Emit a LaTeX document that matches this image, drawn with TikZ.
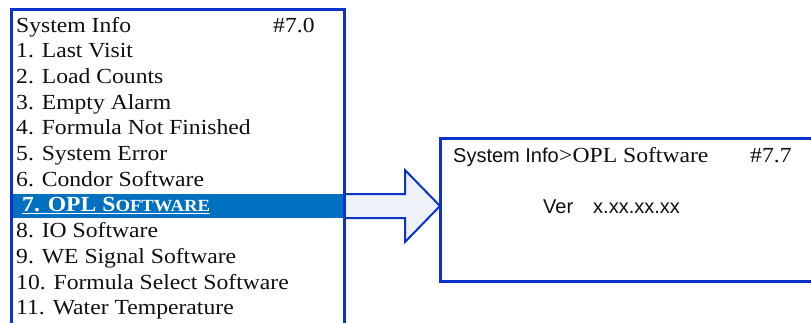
\documentclass[tikz,border=0pt]{standalone}
\usepackage{fontspec}
\newfontfamily\gfont{Liberation Serif}[FakeStretch=1.1]
\newfontfamily\afont{Liberation Sans}
\definecolor{boxblue}{RGB}{8,52,204}
\definecolor{selblue}{RGB}{0,112,192}
\definecolor{arrowfill}{RGB}{238,241,247}
\definecolor{txt}{RGB}{15,15,15}
\begin{document}
\begin{tikzpicture}[x=1pt,y=-1pt,
  item/.style={anchor=base west,inner sep=0pt,text=txt,font=\gfont\fontsize{21.5pt}{25pt}\selectfont},
  sans/.style={anchor=base west,inner sep=0pt,text=txt,font=\afont\fontsize{20pt}{24pt}\selectfont},
  frame/.style={draw=boxblue,line width=3pt},
]
\useasboundingbox (0,0) rectangle (811,322);
% highlight bar
\fill[selblue] (11,194) rectangle (344,217.5);
% arrow
\coordinate (a1) at (344,194);
\coordinate (a2) at (405,194);
\coordinate (a3) at (405,170);
\coordinate (tip) at (440,206);
\coordinate (a5) at (405,242);
\coordinate (a6) at (405,218);
\coordinate (a7) at (344,218);
\fill[arrowfill] (a1) -- (a2) -- (a3) -- (tip) -- (a5) -- (a6) -- (a7) -- cycle;
\draw[draw=boxblue,line width=2pt,line join=miter] (a1) -- (a2) -- (a3) -- (tip) -- (a5) -- (a6) -- (a7);
% left box
\coordinate (lb1) at (11,323);
\coordinate (lb2) at (11,9);
\coordinate (lb3) at (344,9);
\coordinate (lb4) at (344,323);
\draw[frame] (lb1) -- (lb2) -- (lb3) -- (lb4);
% right box
\coordinate (rb1) at (812,138);
\coordinate (rb2) at (440,138);
\coordinate (rb3) at (440,281);
\coordinate (rb4) at (812,281);
\draw[frame] (rb1) -- (rb2) -- (rb3) -- (rb4);
% left menu
\node[item] (t0) at (16,32) {System Info};
\node[item] (n0) at (273,32) {\#7.0};
\node[item] (t1) at (16,57.7) {1. Last Visit};
\node[item] (t2) at (16,83.4) {2. Load Counts};
\node[item] (t3) at (16,109.1) {3. Empty Alarm};
\node[item] (t4) at (16,134.8) {4. Formula Not Finished};
\node[item] (t5) at (16,160.5) {5. System Error};
\node[item] (t6) at (16,186.2) {6. Condor Software};
\node[item,text=white] (t7) at (22,211.5) {\underline{\bfseries 7. OPL S{\fontsize{17pt}{20pt}\selectfont OFTWARE}}};
\node[item] (t8) at (16,237.6) {8. IO Software};
\node[item] (t9) at (16,263.3) {9. WE Signal Software};
\node[item] (t10) at (16,289) {10. Formula Select Software};
\node[item] (t11) at (16,314.7) {11. Water Temperature};
% right box content
\node[sans] (h1) at (453,162) {System Info};
\node[item,anchor=base west] (h2) at (h1.base east) {>OPL Software};
\node[item] (h3) at (750,162) {\#7.7};
\node[sans] (v1) at (543,213) {Ver};
\node[sans] (v2) at (593,213) {x.xx.xx.xx};
\end{tikzpicture}
\end{document}
